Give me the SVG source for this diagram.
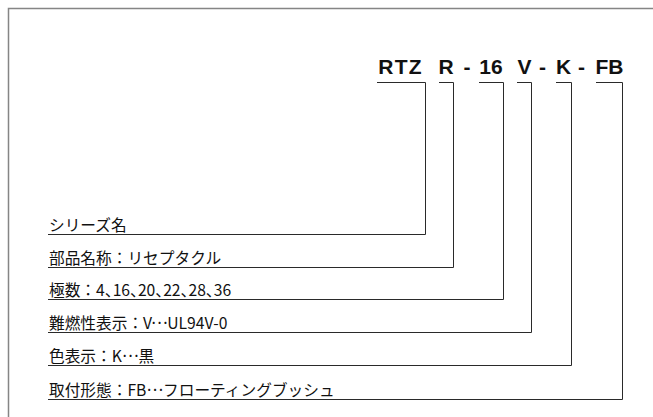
<svg xmlns="http://www.w3.org/2000/svg" width="653" height="417" viewBox="0 0 653 417">
<style>
.frame{fill:none;stroke:#858585;stroke-width:1.5}
.conn{fill:none;stroke:#2a2a2a;stroke-width:1}
.code{font-family:"Liberation Sans",Arial,sans-serif;font-weight:bold;font-size:21px;fill:#111;text-anchor:middle}
.lbl{font-family:"Noto Sans CJK JP","Noto Sans CJK SC",sans-serif;font-size:15.7px;fill:#111}
.h{font-feature-settings:"halt"}
</style>
<rect x="0" y="0" width="653" height="417" fill="#fff"/>
<path class="frame" d="M8.5,417 V8.5 H653"/>
<g id="code">
<text class="code" x="400.5" y="74" letter-spacing="1.2">RTZ</text>
<text class="code" x="446" y="74">R</text>
<text class="code" x="467" y="74">-</text>
<text class="code" x="491" y="74">16</text>
<text class="code" x="524.5" y="74">V</text>
<text class="code" x="542.5" y="74">-</text>
<text class="code" x="563.5" y="74">K</text>
<text class="code" x="581.5" y="74">-</text>
<text class="code" x="609.5" y="74">FB</text>
</g>
<g id="connectors">
<path class="conn" d="M377,82.5 H425.5 V234.5 H48"/>
<path class="conn" d="M439,82.5 H453.5 V267.5 H48"/>
<path class="conn" d="M479,82.5 H503.5 V299.5 H48"/>
<path class="conn" d="M517,82.5 H531.5 V332.5 H48"/>
<path class="conn" d="M556,82.5 H571.5 V365.5 H48"/>
<path class="conn" d="M596,82.5 H622.5 V399.5 H48"/>
</g>
<g id="series"><text class="lbl" x="49" y="230.5">シリーズ名</text></g>
<g id="part"><text class="lbl" x="49" y="263.5">部品名称：リセプタクル</text></g>
<g id="poles"><text class="lbl" x="49" y="295.5">極数：4<tspan class="h">、</tspan>16<tspan class="h">、</tspan>20<tspan class="h">、</tspan>22<tspan class="h">、</tspan>28<tspan class="h">、</tspan>36</text></g>
<g id="flame"><text class="lbl" x="49" y="328.5">難燃性表示：V<tspan dy="-4.5">…</tspan><tspan dy="4.5">UL94V-0</tspan></text></g>
<g id="color"><text class="lbl" x="49" y="361.5">色表示：K<tspan dy="-4.5">…</tspan><tspan dy="4.5">黒</tspan></text></g>
<g id="mount"><text class="lbl" x="49" y="395.5">取付形態：FB<tspan dy="-4.5">…</tspan><tspan dy="4.5">フローティングブッシュ</tspan></text></g>
</svg>
